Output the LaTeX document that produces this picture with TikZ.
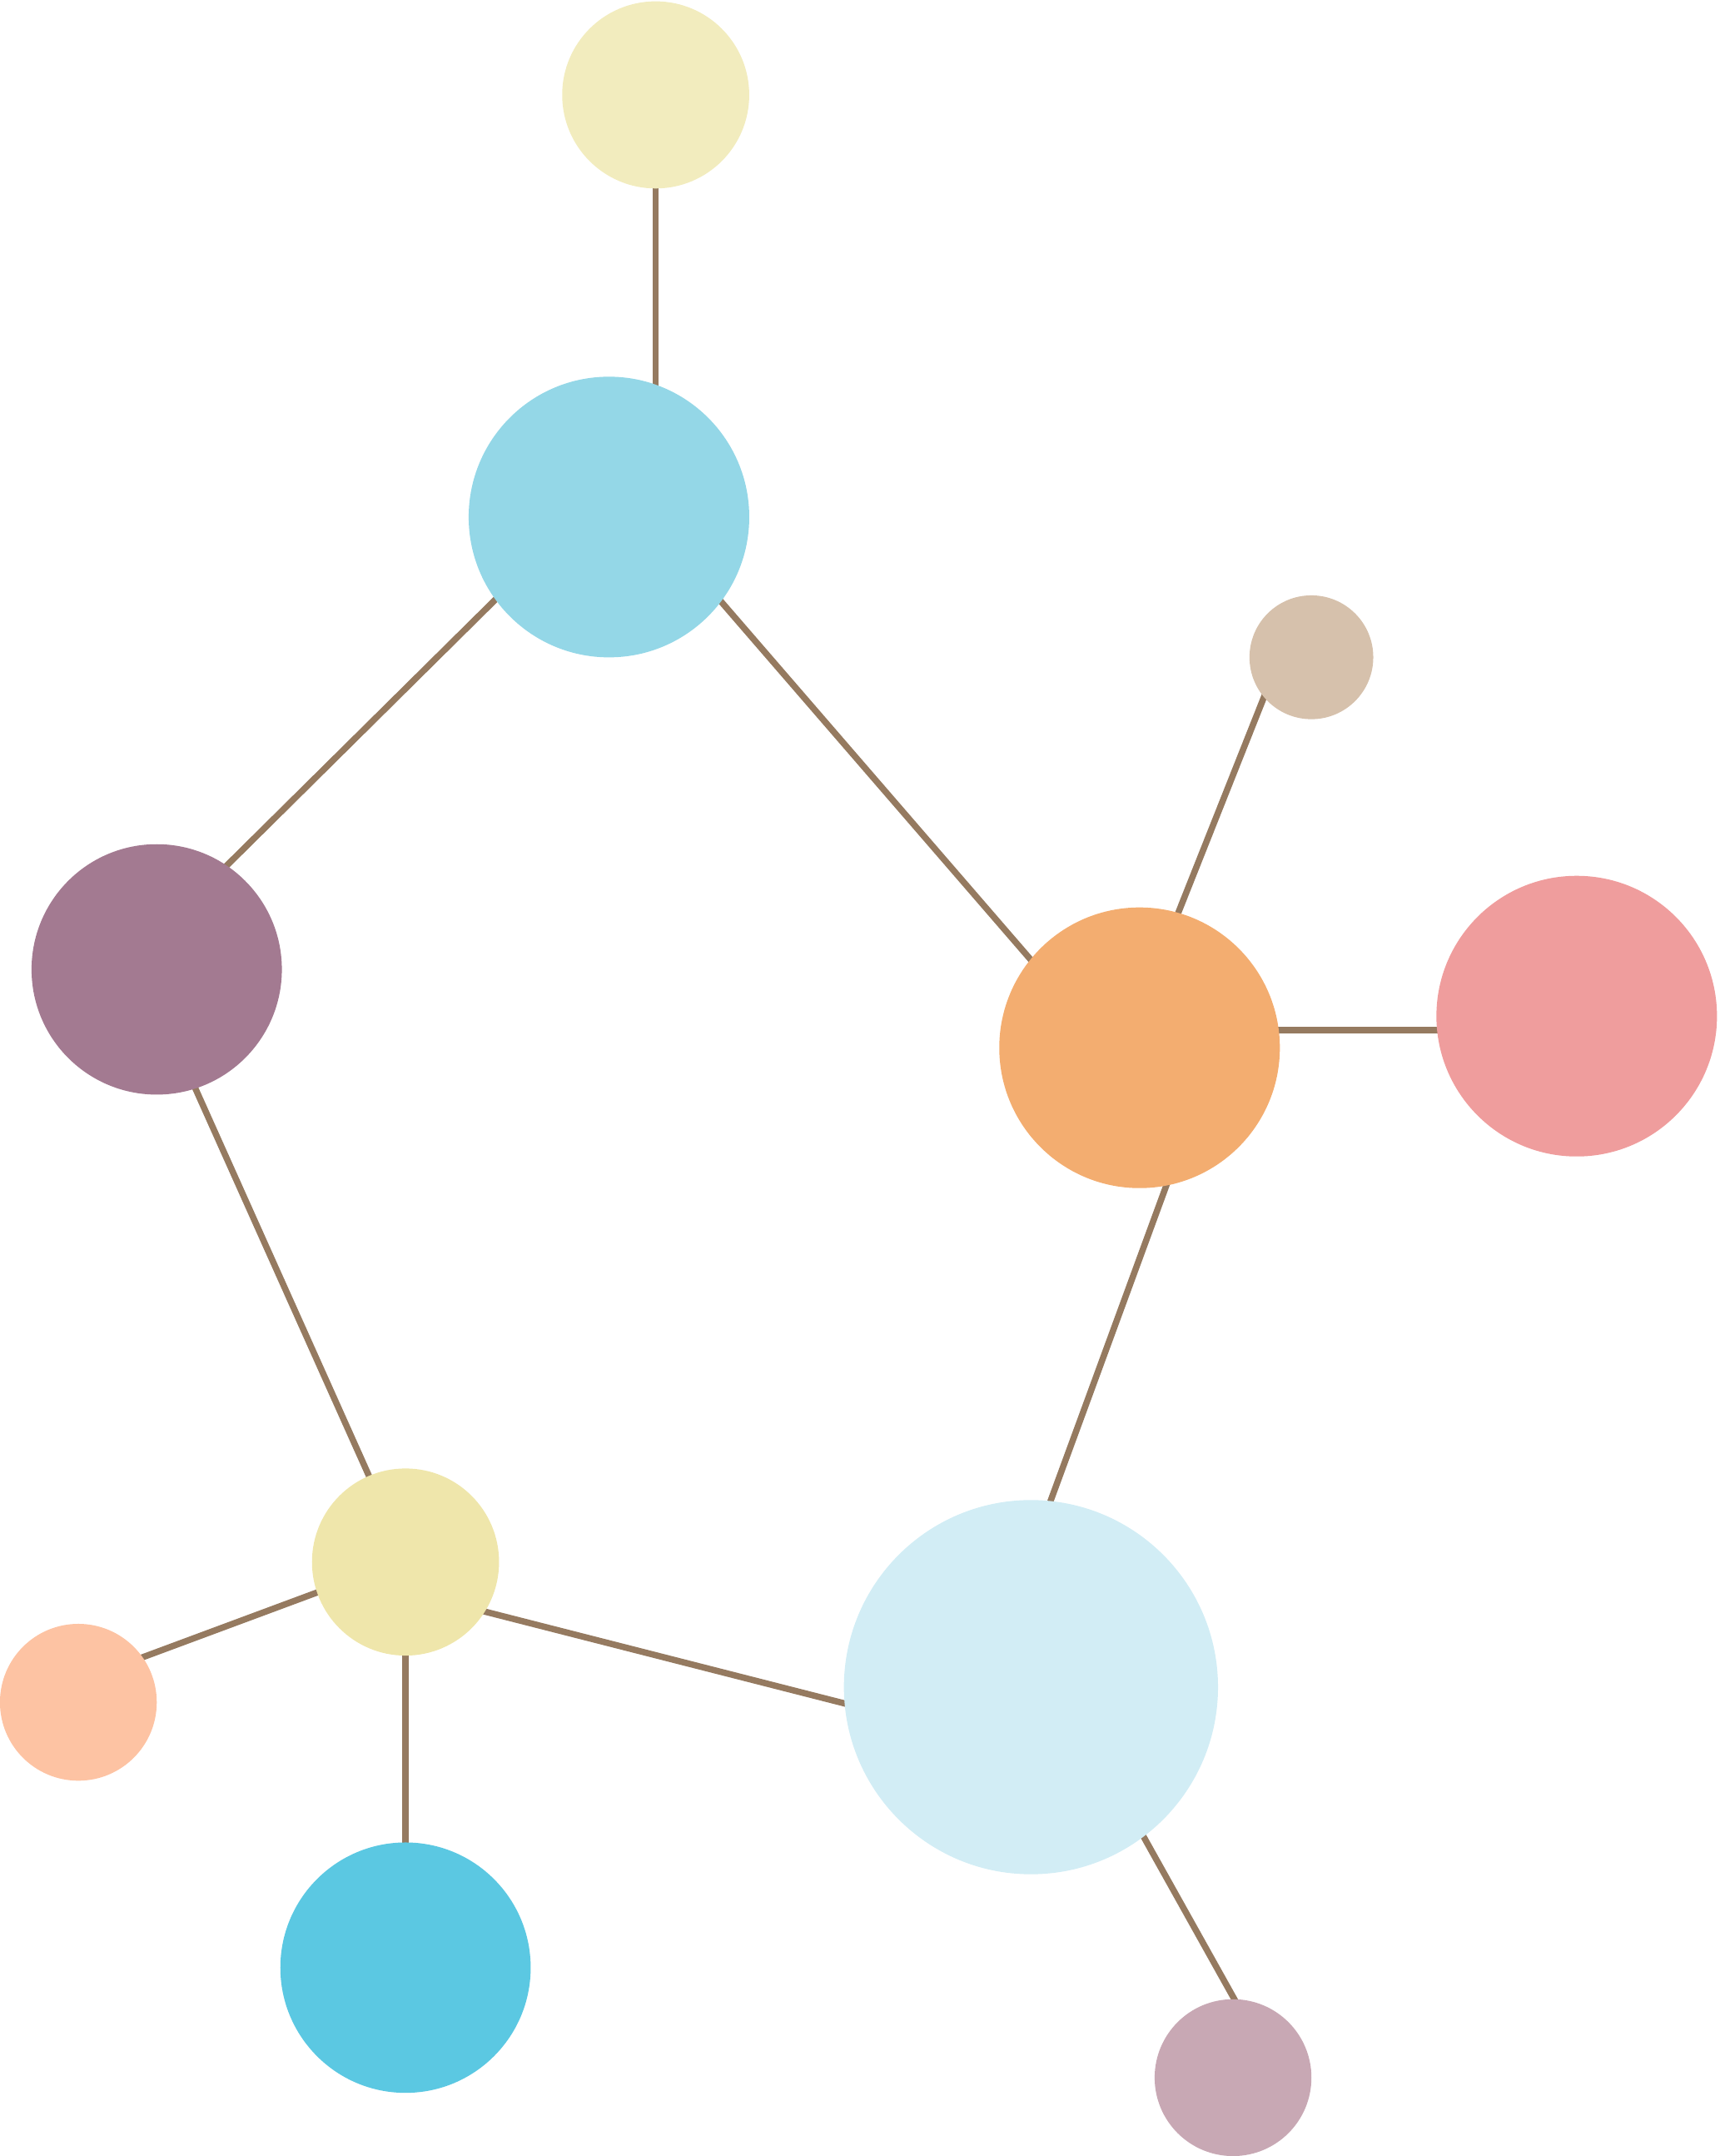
\documentclass[tikz,border=0pt]{standalone}
\usepackage{tikz}
\usetikzlibrary{positioning,backgrounds}

\definecolor{bond}{HTML}{957A60}
\definecolor{cream}{HTML}{F2ECBE}
\definecolor{skyblue}{HTML}{94D7E7}
\definecolor{tan}{HTML}{D6C1AC}
\definecolor{plum}{HTML}{A37A91}
\definecolor{apricot}{HTML}{F3AD70}
\definecolor{rose}{HTML}{EF9D9D}
\definecolor{straw}{HTML}{EFE6AB}
\definecolor{paleblue}{HTML}{D2EDF5}
\definecolor{peach}{HTML}{FDC3A3}
\definecolor{cyan}{HTML}{5BC8E2}
\definecolor{mauve}{HTML}{C8A8B4}

\begin{document}
\begin{tikzpicture}[
  x=0.01cm, y=-0.01cm,
  line width=1.3pt,
  atom/.style={circle, draw=none, inner sep=0pt, outer sep=0pt},
  bondline/.style={draw=bond, line width=1.3pt, shorten <=-3pt, shorten >=-3pt}]

\useasboundingbox (0,0) rectangle (1251,1568);

\node[atom, fill=cream,    minimum size=1.36cm] (top)  at (477,69)   {};
\node[atom, fill=skyblue,  minimum size=2.04cm] (hub)  at (443,376)  {};
\node[atom, fill=tan,      minimum size=0.90cm] (tn)   at (954,478)  {};
\node[atom, fill=plum,     minimum size=1.82cm] (pl)   at (114,705)  {};
\node[atom, fill=apricot,  minimum size=2.04cm] (ap)   at (829,762)  {};
\node[atom, fill=rose,     minimum size=2.04cm] (rs)   at (1147,739) {};
\node[atom, fill=straw,    minimum size=1.36cm] (st)   at (295,1136) {};
\node[atom, fill=paleblue, minimum size=2.72cm] (big)  at (750,1227) {};
\node[atom, fill=peach,    minimum size=1.14cm] (pc)   at (57,1238)  {};
\node[atom, fill=cyan,     minimum size=1.82cm] (cy)   at (295,1431) {};
\node[atom, fill=mauve,    minimum size=1.14cm] (mv)   at (897,1511) {};

\begin{scope}[on background layer]
\draw [bondline] (top.south -| 477,0) -- (hub.center -| 477,0);
\draw [bondline] (hub.216) -- (pl.56);
\draw [bondline] (hub.-37) -- (ap.141);
\draw [bondline] (tn.220) -- (ap.74);
\draw [bondline] (ap.center |- 0,749) -- (rs.center |- 0,749);
\draw [bondline] (pl.-72) -- (st.113);
\draw [bondline] (ap.-79) -- (big.84);
\draw [bondline] (st.199) -- (pc.35);
\draw [bondline] (st.south) -- (cy.north);
\draw [bondline] (st.-32) -- (big.185);
\draw [bondline] (big.-53) -- (mv.89);
\end{scope}

\end{tikzpicture}
\end{document}
